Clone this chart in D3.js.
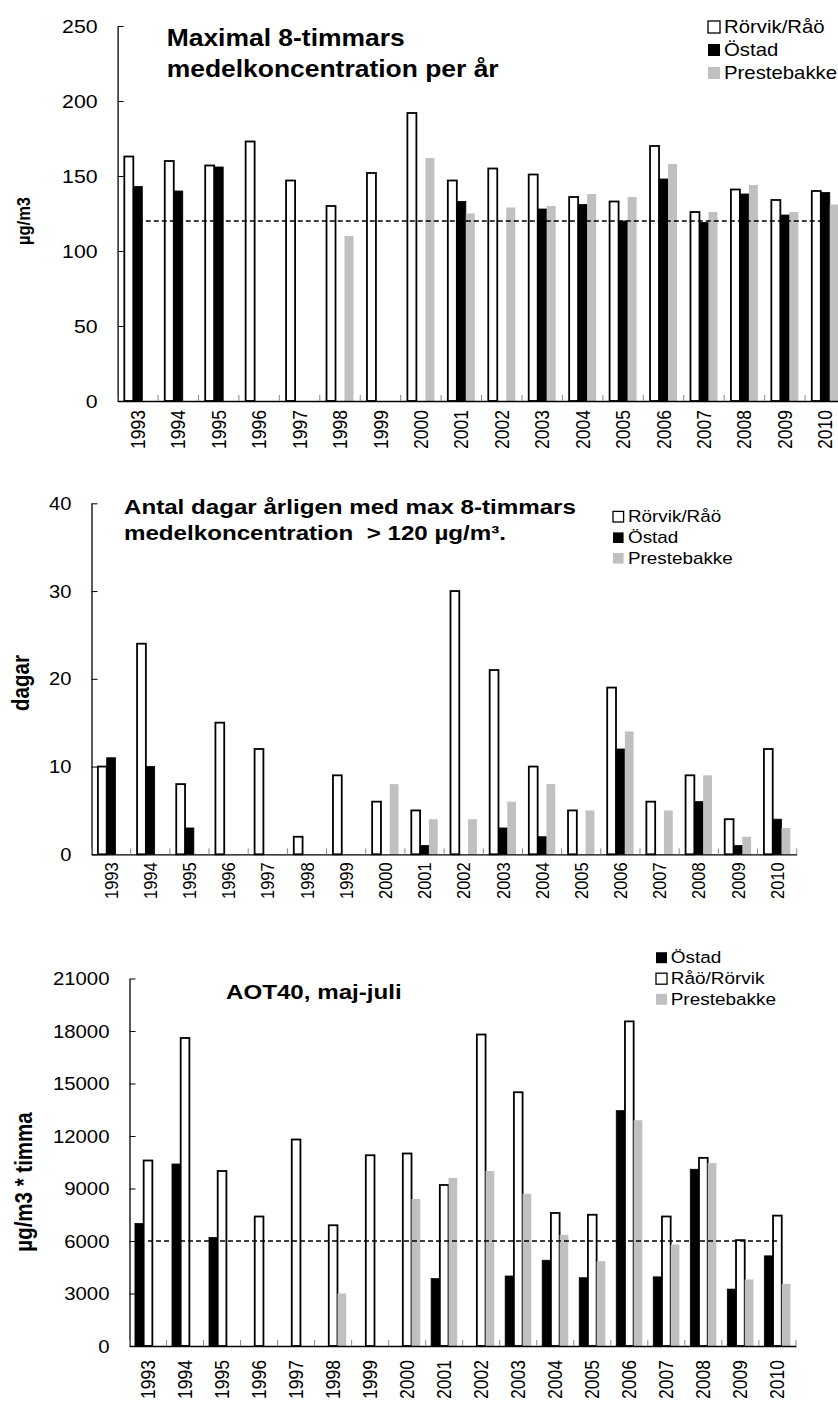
<!DOCTYPE html>
<html>
<head>
<meta charset="utf-8">
<title>Ozon - Rörvik, Östad, Prestebakke</title>
<style>
  body { margin: 0; background: #fff; }
  svg { display: block; font-family: "Liberation Sans", Arial, sans-serif; }
  svg text { white-space: pre; }
  .axis path, .axis line { stroke: #000; }
</style>
</head>
<body>
<svg width="838" height="1403"></svg>
<script src="https://d3js.org/d3.v7.min.js"></script>
<script>
// ---- data ----
const years = ["1993","1994","1995","1996","1997","1998","1999","2000","2001",
               "2002","2003","2004","2005","2006","2007","2008","2009","2010"];

// Maximal 8-timmars medelkoncentration per år (µg/m3)
const maxRorvik = [163, 160, 157, 173, 147, 130, 152, 192, 147, 155, 151, 136, 133, 170, 126, 141, 134, 140];
const maxOstad  = [143, 140, 156, null, null, null, null, null, 133, null, 128, 131, 120, 148, 119, 138, 124, 139];
const maxPreste = [null, null, null, null, null, 110, null, 162, 125, 129, 130, 138, 136, 158, 126, 144, 126, 131];

// Antal dagar > 120 µg/m3
const dagRorvik = [10, 24, 8, 15, 12, 2, 9, 6, 5, 30, 21, 10, 5, 19, 6, 9, 4, 12];
const dagOstad  = [11, 10, 3, null, null, null, null, null, 1, null, 3, 2, null, 12, null, 6, 1, 4];
const dagPreste = [null, null, null, null, null, null, null, 8, 4, 4, 6, 8, 5, 14, 5, 9, 2, 3];

// AOT40, maj-juli (µg/m3 * timma)
const aotOstad  = [7000, 10400, 6200, null, null, null, null, null, 3850, null, 4000, 4900, 3900, 13450, 3950, 10100, 3250, 5150];
const aotRorvik = [10600, 17600, 10000, 7400, 11800, 6900, 10900, 11000, 9200, 17800, 14500, 7600, 7500, 18550, 7400, 10750, 6050, 7450];
const aotPreste = [null, null, null, null, null, 3000, null, 8400, 9600, 10000, 8700, 6350, 4850, 12900, 5800, 10450, 3800, 3550];

const maxTicks = [0, 50, 100, 150, 200, 250];
const dagTicks = [0, 10, 20, 30, 40];
const aotTicks = [0, 3000, 6000, 9000, 12000, 15000, 18000, 21000];

// ---- styles ----
const FONT = '"Liberation Sans", Arial, sans-serif';
const SX = 1.15; // text in the original is stretched a bit horizontally
const styles = {
  rorvik: { fill: "#fff", stroke: "#000", sw: 1.8 },
  ostad:  { fill: "#000", stroke: "#000", sw: 0.8 },
  preste: { fill: "#c0c0c0", stroke: "none", sw: 0 }
};

const svg = d3.select("svg");

function place(sel, x, y, rot) {
  sel.attr("x", 0).attr("y", 0)
     .attr("transform", `translate(${x},${y}) scale(${SX},1)` + (rot ? ` rotate(${rot})` : ""));
}

function drawChart(c) {
  const g = svg.append("g");
  const x0 = d3.scaleBand().domain(years).range([c.left, c.right]);
  const x1 = d3.scaleBand().domain(c.series.map(s => s.key))
      .range([0, x0.bandwidth()]).paddingOuter(c.pad);
  const y = d3.scaleLinear().domain([0, c.yMax]).range([c.bottom, c.top]);

  // bars
  c.series.forEach(s => {
    const st = styles[s.style];
    g.append("g").selectAll("rect")
      .data(years.map((yr, i) => ({ yr, v: s.values[i] })).filter(d => d.v != null))
      .join("rect")
      .attr("x", d => x0(d.yr) + x1(s.key))
      .attr("width", x1.bandwidth())
      .attr("y", d => y(d.v))
      .attr("height", d => y(0) - y(d.v))
      .attr("fill", st.fill)
      .attr("stroke", st.stroke)
      .attr("stroke-width", st.sw);
  });

  // threshold line
  if (c.limit != null) {
    g.append("line")
      .attr("x1", x0(years[0]) + x0.bandwidth() / 2)
      .attr("x2", x0(years[years.length - 1]) + x0.bandwidth() / 2)
      .attr("y1", y(c.limit)).attr("y2", y(c.limit))
      .attr("stroke", "#000").attr("stroke-width", 1.5)
      .attr("stroke-dasharray", "5,3");
  }

  // y axis
  const ya = g.append("g").attr("class", "axis")
    .attr("transform", `translate(${c.left},0)`)
    .call(d3.axisLeft(y).tickValues(c.ticks).tickFormat(d3.format("d"))
      .tickSizeInner(-6).tickSizeOuter(0).tickPadding(20));
  ya.attr("font-family", FONT);
  ya.select(".domain").attr("stroke-width", 1.3);
  ya.selectAll(".tick line").attr("stroke", "#555");
  ya.selectAll("text")
    .attr("font-size", c.tickFont).attr("fill", "#000")
    .attr("dy", "0.35em")
    .each(function () { place(d3.select(this), -20, 0); });

  // x axis
  const xa = g.append("g").attr("class", "axis")
    .attr("transform", `translate(0,${c.bottom})`)
    .call(d3.axisBottom(x0).tickSize(0).tickPadding(0));
  xa.attr("font-family", FONT);
  xa.select(".domain").attr("stroke-width", 1.3);
  xa.selectAll("text")
    .attr("font-size", c.xFont).attr("fill", "#000")
    .attr("text-anchor", "end").attr("dy", "0.35em")
    .each(function () { place(d3.select(this), 0, c.xOff, -90); });

  // category separators
  g.append("g").selectAll("line")
    .data(years.map(yr => x0(yr)).concat([c.right]))
    .join("line")
    .attr("x1", d => d).attr("x2", d => d)
    .attr("y1", c.bottom).attr("y2", c.bottom - 6)
    .attr("stroke", "#888").attr("stroke-width", 1);

  // y title
  g.append("text").text(c.yTitle)
    .attr("font-size", c.yTitleFont).attr("font-weight", "bold")
    .attr("text-anchor", "middle")
    .call(place, c.yTitleX, c.yTitleY, -90);

  // chart title
  c.title.forEach((t, i) => {
    g.append("text").text(t)
      .attr("font-size", c.titleFont).attr("font-weight", "bold")
      .call(place, c.titleX, c.titleY[i]);
  });

  // legend
  c.legend.order.forEach((k, i) => {
    const s = c.series.find(d => d.key === k);
    const st = styles[s.style];
    const cy = c.legend.rows[i];
    const b = c.legend.box;
    g.append("rect")
      .attr("x", c.legend.x).attr("y", cy - b / 2)
      .attr("width", b).attr("height", b)
      .attr("fill", st.fill).attr("stroke", st.stroke)
      .attr("stroke-width", s.style === "rorvik" ? 1.3 : 0);
    g.append("text").text(s.label)
      .attr("font-size", c.legend.font).attr("dy", "0.35em")
      .call(place, c.legend.tx, cy);
  });
}

drawChart({
  left: 117.6, right: 845.5, top: 26, bottom: 401, yMax: 250, ticks: maxTicks, pad: 0.747,
  tickFont: 18.5, xFont: 17.5, xOff: 9, limit: 120,
  series: [
    { key: "r", label: "Rörvik/Råö", style: "rorvik", values: maxRorvik },
    { key: "o", label: "Östad", style: "ostad", values: maxOstad },
    { key: "p", label: "Prestebakke", style: "preste", values: maxPreste }
  ],
  yTitle: "µg/m3", yTitleFont: 16.5, yTitleX: 30, yTitleY: 221,
  title: ["Maximal 8-timmars", "medelkoncentration per år"], titleFont: 23, titleX: 166.7, titleY: [46, 76.5],
  legend: { order: ["r", "o", "p"], x: 708, tx: 724, rows: [27, 50, 73], box: 12, font: 17.7 }
});

drawChart({
  left: 91.5, right: 796.7, top: 503.3, bottom: 854.3, yMax: 40, ticks: dagTicks, pad: 0.726,
  tickFont: 17.5, xFont: 16.5, xOff: 8, limit: null,
  series: [
    { key: "r", label: "Rörvik/Råö", style: "rorvik", values: dagRorvik },
    { key: "o", label: "Östad", style: "ostad", values: dagOstad },
    { key: "p", label: "Prestebakke", style: "preste", values: dagPreste }
  ],
  yTitle: "dagar", yTitleFont: 20.5, yTitleX: 29, yTitleY: 683,
  title: ["Antal dagar årligen med max 8-timmars", "medelkoncentration  > 120 µg/m³."], titleFont: 21, titleX: 124, titleY: [514, 540],
  legend: { order: ["r", "o", "p"], x: 613, tx: 628, rows: [516.7, 537.7, 558.3], box: 10.6, font: 16.4 }
});

drawChart({
  left: 129.5, right: 795.9, top: 978.5, bottom: 1346, yMax: 21000, ticks: aotTicks, pad: 0.627,
  tickFont: 17.7, xFont: 17.5, xOff: 14, limit: 6000,
  series: [
    { key: "o", label: "Östad", style: "ostad", values: aotOstad },
    { key: "r", label: "Råö/Rörvik", style: "rorvik", values: aotRorvik },
    { key: "p", label: "Prestebakke", style: "preste", values: aotPreste }
  ],
  yTitle: "µg/m3 * timma", yTitleFont: 20.5, yTitleX: 32, yTitleY: 1182,
  title: ["AOT40, maj-juli"], titleFont: 21, titleX: 226, titleY: [999],
  legend: { order: ["o", "r", "p"], x: 656, tx: 670.7, rows: [957.7, 978.7, 999.3], box: 11, font: 16.5 }
});
</script>
</body>
</html>
